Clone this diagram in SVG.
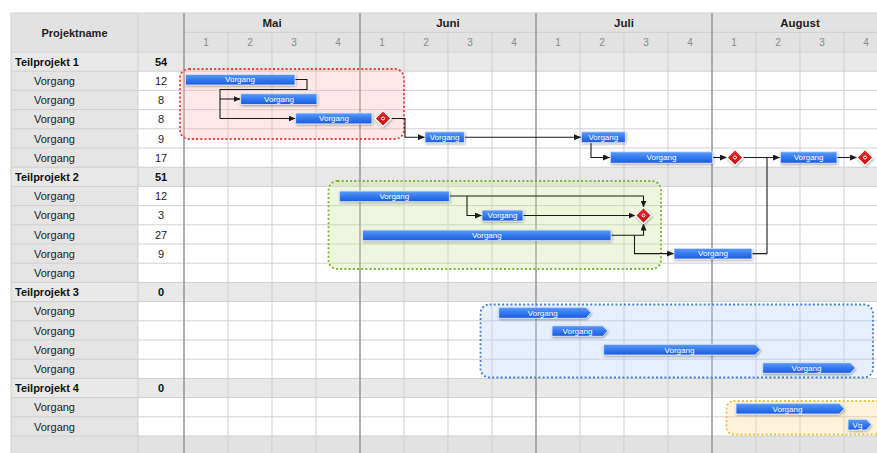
<svg xmlns="http://www.w3.org/2000/svg" width="877" height="453" viewBox="0 0 877 453">
  <style>
    text { font-family: "Liberation Sans", Arial, sans-serif; }
    .hdr { font-size: 11px; font-weight: bold; fill: #1e1e1e; text-anchor: middle; }
    .mon { font-size: 11.5px; font-weight: bold; fill: #1e1e1e; text-anchor: middle; }
    .wk { font-size: 10px; fill: #8a8a8a; text-anchor: middle; }
    .tp { font-size: 11px; font-weight: bold; fill: #111; }
    .vg { font-size: 11px; fill: #222; }
    .num { font-size: 11px; fill: #222; text-anchor: middle; }
    .numb { font-size: 11px; font-weight: bold; fill: #111; text-anchor: middle; }
    .hl { stroke: #d0d0d0; stroke-width: 1; }
    .wl { stroke: #cfcfcf; stroke-width: 1; }
    .ml { stroke: #9a9a9a; stroke-width: 1.6; }
    .bar { fill: url(#barGrad); stroke: #e4ecfb; stroke-width: 0.8; filter: url(#shadow); }
    .bt { font-size: 8px; fill: #ffffff; text-anchor: middle; }
    .ms { fill: url(#msGrad); stroke: #ffffff; stroke-width: 1.2; filter: url(#shadow); }
    .msdot { fill: none; stroke: #ffffff; stroke-width: 1; }
    .conn { fill: none; stroke: #1a1a1a; stroke-width: 1.1; }
    .arr { marker-end: url(#arrow); }
    .box { stroke-width: 1.8; stroke-dasharray: 2 2.2; }
  </style>
  <defs>
    <linearGradient id="barGrad" x1="0" y1="0" x2="0" y2="1">
      <stop offset="0" stop-color="#5d9cf8"/>
      <stop offset="0.5" stop-color="#3479ef"/>
      <stop offset="1" stop-color="#1b5ce0"/>
    </linearGradient>
    <linearGradient id="msGrad" x1="0" y1="0" x2="0" y2="1">
      <stop offset="0" stop-color="#ee2a2a"/>
      <stop offset="1" stop-color="#c40c0c"/>
    </linearGradient>
    <filter id="shadow" x="-20%" y="-40%" width="140%" height="190%">
      <feDropShadow dx="0.6" dy="1.2" stdDeviation="0.9" flood-color="#000" flood-opacity="0.35"/>
    </filter>
    <marker id="arrow" markerUnits="userSpaceOnUse" markerWidth="7" markerHeight="6" refX="7" refY="3" orient="auto">
      <path d="M0,0 L7,3 L0,6 z" fill="#1a1a1a"/>
    </marker>
  </defs>

  <!-- sheet background -->
  <rect x="0" y="0" width="877" height="453" fill="#ffffff"/>

  <!-- table backgrounds -->
  <g id="table-bg">
    <rect x="11" y="13" width="866" height="39" fill="#e2e2e2"/>
    <!-- name column cells -->
    <rect x="11" y="52" width="127" height="384" fill="#e4e4e4"/>
    <!-- Teilprojekt rows -->
    <rect x="11" y="52" width="866" height="19.2" fill="#e8e8e8"/>
    <rect x="11" y="167.2" width="866" height="19.2" fill="#e8e8e8"/>
    <rect x="11" y="282.4" width="866" height="19.2" fill="#e8e8e8"/>
    <rect x="11" y="378.4" width="866" height="19.2" fill="#e8e8e8"/>
    <!-- closing row -->
    <rect x="11" y="436" width="866" height="17" fill="#e2e2e2"/>
  </g>

  <!-- grid lines -->
  <g id="grid">
    <line class="hl" x1="11" y1="13" x2="877" y2="13"/>
    <line class="hl" x1="184" y1="32.3" x2="877" y2="32.3"/>
    <line class="hl" x1="11" y1="52" x2="877" y2="52"/>
    <line class="hl" x1="11" y1="71.2" x2="877" y2="71.2"/>
    <line class="hl" x1="11" y1="90.4" x2="877" y2="90.4"/>
    <line class="hl" x1="11" y1="109.6" x2="877" y2="109.6"/>
    <line class="hl" x1="11" y1="128.8" x2="877" y2="128.8"/>
    <line class="hl" x1="11" y1="148" x2="877" y2="148"/>
    <line class="hl" x1="11" y1="167.2" x2="877" y2="167.2"/>
    <line class="hl" x1="11" y1="186.4" x2="877" y2="186.4"/>
    <line class="hl" x1="11" y1="205.6" x2="877" y2="205.6"/>
    <line class="hl" x1="11" y1="224.8" x2="877" y2="224.8"/>
    <line class="hl" x1="11" y1="244" x2="877" y2="244"/>
    <line class="hl" x1="11" y1="263.2" x2="877" y2="263.2"/>
    <line class="hl" x1="11" y1="282.4" x2="877" y2="282.4"/>
    <line class="hl" x1="11" y1="301.6" x2="877" y2="301.6"/>
    <line class="hl" x1="11" y1="320.8" x2="877" y2="320.8"/>
    <line class="hl" x1="11" y1="340" x2="877" y2="340"/>
    <line class="hl" x1="11" y1="359.2" x2="877" y2="359.2"/>
    <line class="hl" x1="11" y1="378.4" x2="877" y2="378.4"/>
    <line class="hl" x1="11" y1="397.6" x2="877" y2="397.6"/>
    <line class="hl" x1="11" y1="416.8" x2="877" y2="416.8"/>
    <line class="hl" x1="11" y1="436" x2="877" y2="436"/>

    <line class="hl" x1="11" y1="13" x2="11" y2="453"/>
    <line class="hl" x1="138" y1="13" x2="138" y2="453"/>
    <!-- week lines -->
    <line class="wl" x1="228" y1="32.3" x2="228" y2="453"/>
    <line class="wl" x1="272" y1="32.3" x2="272" y2="453"/>
    <line class="wl" x1="316" y1="32.3" x2="316" y2="453"/>
    <line class="wl" x1="404" y1="32.3" x2="404" y2="453"/>
    <line class="wl" x1="448" y1="32.3" x2="448" y2="453"/>
    <line class="wl" x1="492" y1="32.3" x2="492" y2="453"/>
    <line class="wl" x1="580" y1="32.3" x2="580" y2="453"/>
    <line class="wl" x1="624" y1="32.3" x2="624" y2="453"/>
    <line class="wl" x1="668" y1="32.3" x2="668" y2="453"/>
    <line class="wl" x1="756" y1="32.3" x2="756" y2="453"/>
    <line class="wl" x1="800" y1="32.3" x2="800" y2="453"/>
    <line class="wl" x1="844" y1="32.3" x2="844" y2="453"/>
    <!-- month lines -->
    <line class="ml" x1="184" y1="13" x2="184" y2="453"/>
    <line class="ml" x1="360" y1="13" x2="360" y2="453"/>
    <line class="ml" x1="536" y1="13" x2="536" y2="453"/>
    <line class="ml" x1="712" y1="13" x2="712" y2="453"/>
  </g>

  <!-- header texts -->
  <g id="header">
    <text class="hdr" x="74.5" y="37">Projektname</text>
    <text class="mon" x="272" y="27">Mai</text>
    <text class="mon" x="448" y="27">Juni</text>
    <text class="mon" x="624" y="27">Juli</text>
    <text class="mon" x="800" y="27">August</text>
    <text class="wk" x="206" y="46">1</text>
    <text class="wk" x="250" y="46">2</text>
    <text class="wk" x="294" y="46">3</text>
    <text class="wk" x="338" y="46">4</text>
    <text class="wk" x="382" y="46">1</text>
    <text class="wk" x="426" y="46">2</text>
    <text class="wk" x="470" y="46">3</text>
    <text class="wk" x="514" y="46">4</text>
    <text class="wk" x="558" y="46">1</text>
    <text class="wk" x="602" y="46">2</text>
    <text class="wk" x="646" y="46">3</text>
    <text class="wk" x="690" y="46">4</text>
    <text class="wk" x="734" y="46">1</text>
    <text class="wk" x="778" y="46">2</text>
    <text class="wk" x="822" y="46">3</text>
    <text class="wk" x="866" y="46">4</text>
  </g>

  <!-- task list -->
  <g id="task-list">
    <text class="tp" x="15" y="65.8">Teilprojekt 1</text><text class="numb" x="161" y="65.8">54</text>
    <text class="vg" x="34" y="85">Vorgang</text><text class="num" x="161" y="85">12</text>
    <text class="vg" x="34" y="104.2">Vorgang</text><text class="num" x="161" y="104.2">8</text>
    <text class="vg" x="34" y="123.4">Vorgang</text><text class="num" x="161" y="123.4">8</text>
    <text class="vg" x="34" y="142.6">Vorgang</text><text class="num" x="161" y="142.6">9</text>
    <text class="vg" x="34" y="161.8">Vorgang</text><text class="num" x="161" y="161.8">17</text>
    <text class="tp" x="15" y="181">Teilprojekt 2</text><text class="numb" x="161" y="181">51</text>
    <text class="vg" x="34" y="200.2">Vorgang</text><text class="num" x="161" y="200.2">12</text>
    <text class="vg" x="34" y="219.4">Vorgang</text><text class="num" x="161" y="219.4">3</text>
    <text class="vg" x="34" y="238.6">Vorgang</text><text class="num" x="161" y="238.6">27</text>
    <text class="vg" x="34" y="257.8">Vorgang</text><text class="num" x="161" y="257.8">9</text>
    <text class="vg" x="34" y="277">Vorgang</text>
    <text class="tp" x="15" y="296.2">Teilprojekt 3</text><text class="numb" x="161" y="296.2">0</text>
    <text class="vg" x="34" y="315.4">Vorgang</text>
    <text class="vg" x="34" y="334.6">Vorgang</text>
    <text class="vg" x="34" y="353.8">Vorgang</text>
    <text class="vg" x="34" y="373">Vorgang</text>
    <text class="tp" x="15" y="392.2">Teilprojekt 4</text><text class="numb" x="161" y="392.2">0</text>
    <text class="vg" x="34" y="411.4">Vorgang</text>
    <text class="vg" x="34" y="430.6">Vorgang</text>
  </g>

  <!-- phase frames -->
  <g id="phase-1"><rect class="box" x="180" y="69" width="224" height="70" rx="9" fill="rgba(250,190,190,0.35)" stroke="#e8423a"/></g>
  <g id="phase-2"><rect class="box" x="328.5" y="181" width="332.5" height="88" rx="9" fill="rgba(205,228,160,0.35)" stroke="#7fb23a"/></g>
  <g id="phase-3"><rect class="box" x="480.5" y="304.5" width="392.5" height="73" rx="9" fill="rgba(185,210,245,0.35)" stroke="#4a7fd2"/></g>
  <g id="phase-4"><rect class="box" x="726.5" y="401" width="170" height="33.5" rx="7" fill="rgba(250,220,150,0.35)" stroke="#eec044"/></g>

  <!-- dependencies -->
  <g id="connectors">
    <path class="conn" d="M295,79.5 H307 V89.5 H220 V118.5"/>
    <path class="conn arr" d="M220,99 H240.5"/>
    <path class="conn arr" d="M220,118.5 H295.5"/>
    <path class="conn arr" d="M391,118.5 H405 V137.2 H425"/>
    <path class="conn arr" d="M464,137.2 H581"/>
    <path class="conn arr" d="M591,142.7 V157.5 H610"/>
    <path class="conn arr" d="M713,157.5 H727"/>
    <path class="conn arr" d="M743,157.5 H780"/>
    <path class="conn" d="M752,253.6 H767 V157.5"/>
    <path class="conn arr" d="M837,157.5 H857"/>
    <path class="conn arr" d="M449,196 H643.5 V207.5"/>
    <path class="conn arr" d="M467,196 V215.5 H482"/>
    <path class="conn arr" d="M523,215.5 H635.5"/>
    <path class="conn arr" d="M611,235.3 H643.5 V223.5"/>
    <path class="conn arr" d="M634.5,235.3 V253.6 H674"/>
  </g>

  <!-- Teilprojekt 1 tasks -->
  <g id="task-1-1"><rect class="bar" x="185.5" y="74.3" width="109.5" height="10.7"/><text class="bt" x="240" y="82.4">Vorgang</text></g>
  <g id="task-1-2"><rect class="bar" x="240.7" y="93.7" width="76.3" height="10.7"/><text class="bt" x="279" y="101.8">Vorgang</text></g>
  <g id="task-1-3"><rect class="bar" x="295.7" y="113" width="76.3" height="10.9"/><text class="bt" x="334" y="121.1">Vorgang</text></g>
  <g id="milestone-1"><path class="ms" d="M383,110.5 L391,118.5 L383,126.5 L375,118.5 z"/><circle class="msdot" cx="383" cy="118.5" r="1.5"/></g>
  <g id="task-1-4a"><rect class="bar" x="425" y="131.8" width="39.3" height="10.9"/><text class="bt" x="444.6" y="139.9">Vorgang</text></g>
  <g id="task-1-4b"><rect class="bar" x="581.3" y="131.8" width="44" height="10.9"/><text class="bt" x="603.3" y="139.9">Vorgang</text></g>
  <g id="task-1-5a"><rect class="bar" x="610.3" y="151.8" width="102.4" height="11.4"/><text class="bt" x="661.5" y="160.1">Vorgang</text></g>
  <g id="milestone-2"><path class="ms" d="M735,149.5 L743,157.5 L735,165.5 L727,157.5 z"/><circle class="msdot" cx="735" cy="157.5" r="1.5"/></g>
  <g id="task-1-5b"><rect class="bar" x="780.3" y="151.8" width="56.7" height="11.4"/><text class="bt" x="808.6" y="160.1">Vorgang</text></g>
  <g id="milestone-3"><path class="ms" d="M865,149.5 L873,157.5 L865,165.5 L857,157.5 z"/><circle class="msdot" cx="865" cy="157.5" r="1.5"/></g>

  <!-- Teilprojekt 2 tasks -->
  <g id="task-2-1"><rect class="bar" x="339.3" y="191" width="110" height="10.7"/><text class="bt" x="394.3" y="199.1">Vorgang</text></g>
  <g id="task-2-2"><rect class="bar" x="482" y="210" width="41" height="11"/><text class="bt" x="502.5" y="218.3">Vorgang</text></g>
  <g id="task-2-3"><rect class="bar" x="362.7" y="230" width="248.3" height="10.7"/><text class="bt" x="486.8" y="238.1">Vorgang</text></g>
  <g id="milestone-4"><path class="ms" d="M643.5,207.5 L651.5,215.5 L643.5,223.5 L635.5,215.5 z"/><circle class="msdot" cx="643.5" cy="215.5" r="1.5"/></g>
  <g id="task-2-4"><rect class="bar" x="674" y="248.3" width="78" height="10.7"/><text class="bt" x="713" y="256.4">Vorgang</text></g>

  <!-- Teilprojekt 3 tasks -->
  <g id="task-3-1"><path class="bar" d="M498.7,307.3 H586 L591,312.8 L586,318.3 H498.7 z"/><text class="bt" x="542.7" y="315.5">Vorgang</text></g>
  <g id="task-3-2"><path class="bar" d="M552,325.7 H602.7 L607.7,331 L602.7,336.3 H552 z"/><text class="bt" x="577.5" y="333.8">Vorgang</text></g>
  <g id="task-3-3"><path class="bar" d="M603.7,344.3 H755.3 L760.3,349.7 L755.3,355 H603.7 z"/><text class="bt" x="679.5" y="352.5">Vorgang</text></g>
  <g id="task-3-4"><path class="bar" d="M762.7,362.7 H850.3 L855.3,368 L850.3,373.3 H762.7 z"/><text class="bt" x="806.5" y="370.8">Vorgang</text></g>

  <!-- Teilprojekt 4 tasks -->
  <g id="task-4-1"><path class="bar" d="M736,403.3 H839.3 L844.3,408.7 L839.3,414 H736 z"/><text class="bt" x="787.5" y="411.5">Vorgang</text></g>
  <g id="task-4-2"><path class="bar" d="M848,419.3 H866.3 L871.3,424.7 L866.3,430 H848 z"/><text class="bt" x="857.5" y="427.5">Vg</text></g>
</svg>
